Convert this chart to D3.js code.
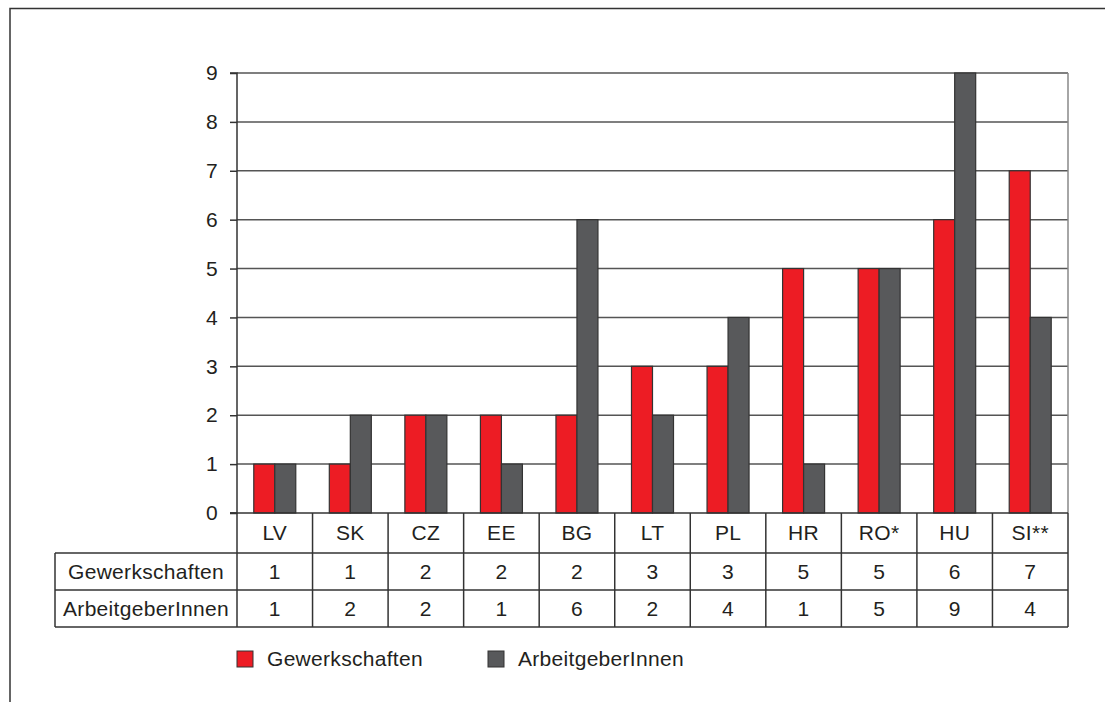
<!DOCTYPE html>
<html><head><meta charset="utf-8">
<script src="https://cdn.jsdelivr.net/npm/d3@7"></script>
<style>
body{margin:0;background:#fff;}
text{font-family:"Liberation Sans",Arial,Helvetica,sans-serif;fill:#231f20;letter-spacing:0.3px;}
</style></head>
<body><svg id="c" width="1105" height="702"></svg>
<script>
const categories = ["LV","SK","CZ","EE","BG","LT","PL","HR","RO*","HU","SI**"];
const gewerkschaften = [1,1,2,2,2,3,3,5,5,6,7];
const arbeitgeber = [1,2,2,1,6,2,4,1,5,9,4];
const seriesNames = ["Gewerkschaften","ArbeitgeberInnen"];
const yTicks = [0,1,2,3,4,5,6,7,8,9];
const colors = ["#ed1c24","#58595b"];

(function(){
const svg = d3.select("#c");
const fs = 21;
const pL = 237, pR = 1068, pT = 73, pB = 513;
const x = d3.scaleBand().domain(categories).range([pL,pR]);
const y = d3.scaleLinear().domain([0,9]).range([pB,pT]);
const inner = d3.scaleBand().domain(seriesNames).range([0,42]);

// outer frame
svg.append("path").attr("d","M10,702 V8.5 H1105").attr("fill","none").attr("stroke","#333").attr("stroke-width",1.5);

// grid
svg.append("g").selectAll("line").data(yTicks.filter(d=>d>0)).join("line")
  .attr("x1",pL).attr("x2",pR).attr("y1",d=>y(d)).attr("y2",d=>y(d))
  .attr("stroke","#555").attr("stroke-width",1.5);
// right border
svg.append("line").attr("x1",pR).attr("x2",pR).attr("y1",pT).attr("y2",pB)
  .attr("stroke","#888").attr("stroke-width",1.5);

// bars
const groups = svg.append("g").selectAll("g").data(categories).join("g")
  .attr("transform",d=>`translate(${x(d)+(x.bandwidth()-42)/2},0)`);
groups.selectAll("rect").data((d,i)=>[gewerkschaften[i],arbeitgeber[i]].map((v,j)=>({v,j})))
  .join("rect")
  .attr("x",d=>inner(seriesNames[d.j])).attr("width",inner.bandwidth())
  .attr("y",d=>y(d.v)).attr("height",d=>y(0)-y(d.v))
  .attr("fill",d=>colors[d.j]).attr("stroke","#333").attr("stroke-width",1.2);

// y axis
const yAxis = d3.axisLeft(y).tickValues(yTicks).tickSize(7).tickPadding(12).tickFormat(d3.format("d"));
const ya = svg.append("g").attr("transform",`translate(${pL},0)`).call(yAxis);
ya.select(".domain").attr("stroke","#333").attr("stroke-width",1.5).attr("d",`M-7,${pT}H0V${pB}H-7`);
ya.selectAll(".tick line").attr("stroke","#333").attr("stroke-width",1.5);
ya.selectAll(".tick text").style("font-size",fs+"px").style("font-family","Liberation Sans, Arial, sans-serif").attr("fill","#231f20");

// baseline
svg.append("line").attr("x1",pL-7).attr("x2",pR).attr("y1",pB).attr("y2",pB).attr("stroke","#333").attr("stroke-width",1.5);

// table
const rowY = [513,553,590,627];
const tLeft = 55;
const tg = svg.append("g").attr("stroke","#333").attr("stroke-width",1.5);
[1,2,3].forEach(k=>tg.append("line").attr("x1",tLeft).attr("x2",pR).attr("y1",rowY[k]).attr("y2",rowY[k]));
const vx = categories.map(c=>x(c)).concat([pR]);
tg.selectAll(".v").data(vx).join("line").attr("class","v")
  .attr("x1",d=>d).attr("x2",d=>d).attr("y1",rowY[0]).attr("y2",rowY[3]);
tg.append("line").attr("x1",tLeft).attr("x2",tLeft).attr("y1",rowY[1]).attr("y2",rowY[3]);

const txt = svg.append("g").style("font-size",fs+"px").attr("text-anchor","middle");
txt.selectAll(".cat").data(categories).join("text").attr("class","cat")
  .attr("x",d=>x(d)+x.bandwidth()/2).attr("y",(rowY[0]+rowY[1])/2).attr("dy","0.35em").text(d=>d);
txt.selectAll(".g").data(gewerkschaften).join("text").attr("class","g")
  .attr("x",(d,i)=>x(categories[i])+x.bandwidth()/2).attr("y",(rowY[1]+rowY[2])/2).attr("dy","0.35em").text(d=>d);
txt.selectAll(".a").data(arbeitgeber).join("text").attr("class","a")
  .attr("x",(d,i)=>x(categories[i])+x.bandwidth()/2).attr("y",(rowY[2]+rowY[3])/2).attr("dy","0.35em").text(d=>d);
txt.selectAll(".rl").data(seriesNames).join("text").attr("class","rl")
  .attr("x",(tLeft+pL)/2).attr("y",(d,i)=>(rowY[i+1]+rowY[i+2])/2).attr("dy","0.35em").text(d=>d);

// legend
const legX = [237,488];
const lg = svg.append("g").selectAll("g").data(seriesNames).join("g")
  .attr("transform",(d,i)=>`translate(${legX[i]},651)`);
lg.append("rect").attr("width",16).attr("height",16).attr("fill",(d,i)=>colors[i]).attr("stroke","#333").attr("stroke-width",1);
lg.append("text").attr("x",30).attr("y",8).attr("dy","0.35em").style("font-size",fs+"px").text(d=>d);
})();
</script></body></html>
